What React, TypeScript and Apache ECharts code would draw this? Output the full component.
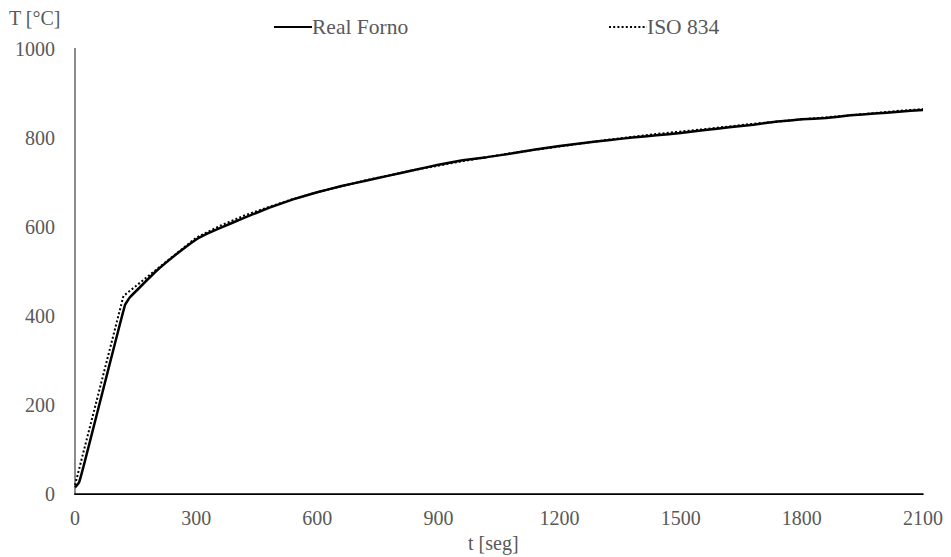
import React, { useEffect, useRef } from "react";
import * as echarts from "echarts";

// time [s]
const realFornoT = [0, 10, 20, 60, 100, 124, 136, 160, 200, 250, 300, 320, 360, 420, 480, 540, 600, 660, 720, 780, 840, 900, 960, 1020, 1080, 1140, 1200, 1260, 1320, 1380, 1440, 1500, 1560, 1620, 1680, 1740, 1800, 1860, 1920, 1980, 2040, 2100];
// temperature [°C]
const realFornoV = [15, 26, 58, 200, 342, 425, 442, 464, 500, 538, 572, 582, 598, 621, 643, 662, 678, 692, 704, 716, 728, 740, 750, 757, 765, 774, 782, 789, 795, 801, 806, 811, 818, 824, 830, 837, 842, 845, 851, 855, 859, 863];

const isoT = [0, 120, 300, 360, 420, 480, 540, 600, 720, 840, 960, 1080, 1200, 1320, 1440, 1560, 1680, 1800, 1920, 2040, 2100];
const isoV = [20, 445, 576, 603, 626, 645, 663, 678, 705, 728, 748, 766, 781, 796, 809, 820, 832, 842, 851, 861, 865];

const xTicks = { min: 0, max: 2100, interval: 300 };
const yTicks = { min: 0, max: 1000, interval: 200 };

const FONT = "'Liberation Serif', 'Times New Roman', serif";
const GRAY = "#595959";

export default function App() {
  const ref = useRef<HTMLDivElement>(null);
  useEffect(() => {
    if (!ref.current) return;
    const chart = echarts.init(ref.current, undefined, { renderer: "svg" });
    const labelStyle = { color: GRAY, fontFamily: FONT, fontSize: 20 };
    const legendBase = {
      top: 11,
      itemWidth: 38,
      itemHeight: 14,
      itemGap: 0,
      itemStyle: { opacity: 0, borderWidth: 0 },
      textStyle: { ...labelStyle, fontSize: 21.5, padding: [0, 0, 0, -5] },
    };
    chart.setOption({
      animation: false,
      backgroundColor: "#fff",
      grid: { left: 75, right: 28, top: 49, bottom: 63, containLabel: false },
      legend: [
        { ...legendBase, left: 268, data: ["Real Forno"] },
        { ...legendBase, left: 603, data: ["ISO 834"] },
      ],
      xAxis: [
        {
          type: "value",
          ...xTicks,
          axisLine: { show: true, lineStyle: { color: "#000", width: 1.5 } },
          axisTick: { show: false },
          splitLine: { show: false },
          axisLabel: { ...labelStyle, margin: 14, formatter: (v: number) => String(v) },
        },
        {
          type: "value",
          position: "top",
          ...xTicks,
          axisLine: { show: true, lineStyle: { color: "#000", width: 1 } },
          axisTick: { show: false },
          splitLine: { show: false },
          axisLabel: { show: false },
        },
      ],
      yAxis: [
        {
          type: "value",
          ...yTicks,
          axisLine: { show: true, lineStyle: { color: "#000", width: 1.5 } },
          axisTick: { show: false },
          splitLine: { show: false },
          axisLabel: { ...labelStyle, margin: 20, formatter: (v: number) => String(v) },
        },
        {
          type: "value",
          position: "right",
          ...yTicks,
          axisLine: { show: true, lineStyle: { color: "#8c8c8c", width: 2 } },
          axisTick: { show: false },
          splitLine: { show: false },
          axisLabel: { show: false },
        },
      ],
      graphic: [
        {
          type: "text",
          left: 9,
          top: 8,
          style: { text: "T [°C]", fill: GRAY, font: `20px ${FONT}` },
        },
        {
          type: "text",
          left: 468,
          top: 533,
          style: { text: "t [seg]", fill: GRAY, font: `20px ${FONT}` },
        },
      ],
      series: [
        {
          name: "Real Forno",
          type: "line",
          data: realFornoT.map((t, i) => [t, realFornoV[i]]),
          symbol: "none",
          smooth: 0.1,
          lineStyle: { color: "#000", width: 2.5 },
          itemStyle: { color: "#000" },
        },
        {
          name: "ISO 834",
          type: "line",
          data: isoT.map((t, i) => [t, isoV[i]]),
          symbol: "none",
          lineStyle: { color: "#000", width: 2, type: [2, 2.2] },
          itemStyle: { color: "#000" },
        },
      ],
    });
    return () => chart.dispose();
  }, []);
  return <div ref={ref} style={{ width: 951, height: 557, position: "fixed", left: 0, top: 0 }} />;
}
